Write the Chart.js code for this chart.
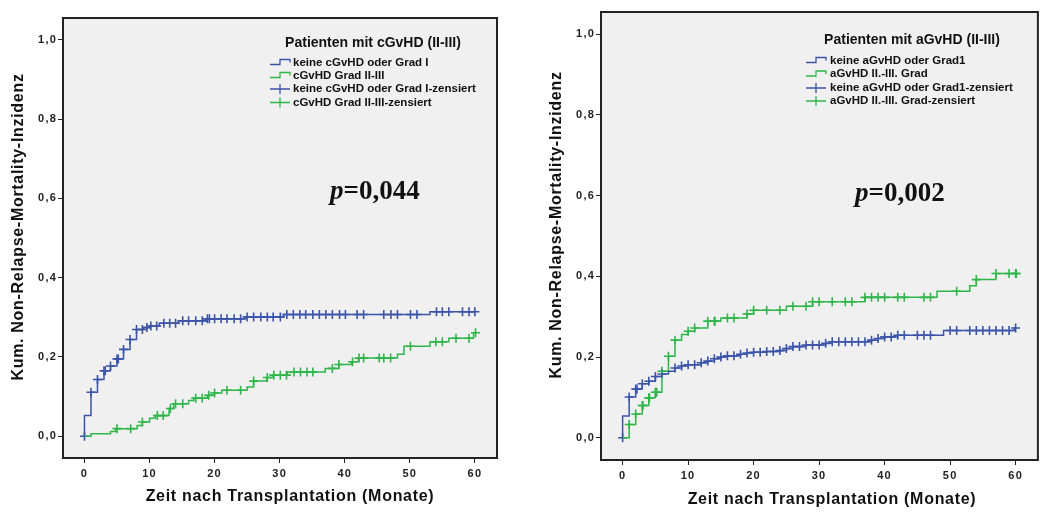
<!DOCTYPE html>
<html>
<head>
<meta charset="utf-8">
<script src="https://cdn.jsdelivr.net/npm/chart.js@4.4.1/dist/chart.umd.min.js"></script>
<style>
  body { margin: 0; background: #fff; width: 1044px; height: 512px; overflow: hidden; }
  .box { position: absolute; top: 0; }
</style>
</head>
<body>
<div class="box" style="left:0;width:520px;height:512px"><canvas id="chartC" width="520" height="512"></canvas></div>
<div class="box" style="left:520px;width:524px;height:512px"><canvas id="chartA" width="524" height="512"></canvas></div>
<script>
// axes
const xTicks = [0, 10, 20, 30, 40, 50, 60];
const yTicks = [0, 0.2, 0.4, 0.6, 0.8, 1.0];
const xTitle = 'Zeit nach Transplantation (Monate)';
const yTitle = 'Kum. Non-Relapse-Mortality-Inzidenz';

// left: cGvHD
const cBlueTimes = [0, 1, 2, 3, 4, 5, 6, 7, 8, 9, 10, 11.5, 14.4, 18.9, 24.8, 30.6, 53.1];
const cBlueNrm = [0.052, 0.111, 0.143, 0.165, 0.177, 0.195, 0.219, 0.244, 0.269, 0.274, 0.278, 0.285, 0.291, 0.296, 0.301, 0.307, 0.314];
const cBlueCensored = [0, 1, 2, 3, 3.2, 4, 5, 5.2, 6, 7, 8, 8.9, 9.6, 10.2, 11.1, 12.2, 13.1, 14, 15.1, 16, 17.1, 18.1, 18.9, 19.2, 20, 21, 21.9, 23, 24, 25, 26, 27.1, 28.1, 29, 30.1, 31.1, 32.1, 33.1, 34, 35.1, 36.1, 37.1, 38.1, 39.2, 40.1, 41.9, 42.9, 46, 47.1, 48.1, 50.1, 51.1, 54.1, 55, 56, 58.1, 59.1, 60];
const cGreenTimes = [1, 4, 4.8, 8.1, 8.9, 10, 10.9, 13, 13.7, 16, 16.8, 18.9, 19.9, 21.1, 25, 26, 28, 29, 31.2, 37, 39.1, 41, 42.1, 48.1, 49.1, 53.1, 56, 59.8];
const cGreenNrm = [0.006, 0.012, 0.019, 0.027, 0.036, 0.045, 0.052, 0.070, 0.082, 0.090, 0.096, 0.103, 0.109, 0.116, 0.124, 0.139, 0.148, 0.154, 0.162, 0.171, 0.181, 0.188, 0.197, 0.207, 0.227, 0.238, 0.247, 0.261];
const cGreenCensored = [5, 7.1, 8.9, 11.2, 12.1, 13.2, 14, 15.1, 17.1, 18.1, 19.1, 20, 21.9, 24, 26, 28.1, 29.1, 30.1, 31.05, 32.2, 33.2, 34.2, 35.1, 38.1, 39.1, 41.2, 42.2, 42.9, 45.3, 46, 47.05, 50.1, 54, 55, 57.1, 59.1, 60.1];

// right: aGvHD
const aBlueTimes = [0, 1, 2, 3, 4, 5, 6, 7, 8, 9, 10, 12, 13, 14, 15, 16, 18, 19, 20, 22, 24, 25, 26, 28, 31, 32, 38, 39, 40, 42, 49, 59.8];
const aBlueNrm = [0.054, 0.101, 0.121, 0.134, 0.140, 0.152, 0.158, 0.165, 0.173, 0.178, 0.181, 0.186, 0.190, 0.196, 0.200, 0.203, 0.207, 0.210, 0.212, 0.214, 0.216, 0.221, 0.226, 0.230, 0.234, 0.238, 0.242, 0.246, 0.250, 0.254, 0.266, 0.272];
const aBlueCensored = [0, 1, 2, 2.2, 3, 4, 5, 6, 8, 9, 10, 11, 12, 13, 14, 15, 16, 17, 18, 19, 20, 21, 22, 23, 24, 25, 26, 27, 28, 29, 30, 31, 32, 33, 34, 35, 36, 37, 38, 39, 40, 41, 42, 43, 45, 46, 47, 50, 51, 53, 54, 55, 56, 57, 58, 59, 60];
const aGreenTimes = [1, 2, 3, 4, 5, 6, 7, 8, 9, 10, 11, 13, 15, 19, 20, 25, 29, 37, 48, 53, 54, 57];
const aGreenNrm = [0.033, 0.059, 0.080, 0.099, 0.113, 0.165, 0.202, 0.242, 0.256, 0.264, 0.272, 0.289, 0.297, 0.307, 0.316, 0.326, 0.337, 0.348, 0.363, 0.377, 0.392, 0.407];
const aGreenCensored = [1, 2, 3, 3.1, 4, 4.1, 5, 5.2, 6, 7, 8, 10, 11, 13, 14, 14.1, 16, 17, 19, 20, 22, 24, 26, 28, 29, 30, 32, 34, 35, 37, 38, 39, 40, 42, 43, 46, 47, 51, 54, 57, 59, 60, 60.1];

const legendC = ['keine cGvHD oder Grad I', 'cGvHD Grad II-III', 'keine cGvHD oder Grad I-zensiert', 'cGvHD Grad II-III-zensiert'];
const legendA = ['keine aGvHD oder Grad1', 'aGvHD II.-III. Grad', 'keine aGvHD oder Grad1-zensiert', 'aGvHD II.-III. Grad-zensiert'];

const BLUE = '#3b53a9';
const GREEN = '#2fb54a';

function stepValue(times, vals, t) {
  if (t <= 0) return 0;
  let v = 0;
  for (let i = 0; i < times.length; i++) {
    if (times[i] <= t) v = vals[i];
  }
  return v;
}

function curve(times, vals, censored) {
  const pts = [{x: 0, y: 0}];
  times.forEach((t, i) => pts.push({x: t, y: vals[i]}));
  const end = Math.max(...censored, times[times.length - 1]);
  pts.push({x: end, y: vals[vals.length - 1]});
  return pts;
}

function marks(times, vals, censored) {
  return censored.map(t => ({x: t, y: stepValue(times, vals, t)}));
}

const frame = {
  id: 'frame',
  beforeDraw(chart) {
    const {ctx, chartArea: a} = chart;
    ctx.fillStyle = '#f0f0f0';
    ctx.fillRect(a.left, a.top, a.right - a.left, a.bottom - a.top);
    // wide spacing for the tick labels, like the original
    ctx.letterSpacing = '1.2px';
  },
  afterDraw(chart) {
    const {ctx, chartArea: a} = chart;
    const t = chart.options.plugins.texts;
    ctx.save();
    ctx.letterSpacing = '0px';
    ctx.strokeStyle = '#222';
    ctx.lineWidth = 2;
    ctx.strokeRect(a.left, a.top, a.right - a.left, a.bottom - a.top);

    // axis titles
    ctx.fillStyle = '#111';
    ctx.font = 'bold 16px "Liberation Sans", Arial, sans-serif';
    ctx.letterSpacing = '0.7px';
    ctx.textAlign = 'center';
    ctx.textBaseline = 'middle';
    ctx.fillText(xTitle, t.xTitle[0], t.xTitle[1]);
    ctx.save();
    ctx.translate(t.yTitle[0], t.yTitle[1]);
    ctx.rotate(-Math.PI / 2);
    ctx.fillText(yTitle, 0, 0);
    ctx.restore();
    ctx.letterSpacing = '0px';

    // legend
    const L = t.legend;
    ctx.font = 'bold 14px "Liberation Sans", Arial, sans-serif';
    ctx.fillText(L.title, L.titleX, L.titleY);
    ctx.font = 'bold 11.5px "Liberation Sans", Arial, sans-serif';
    ctx.textAlign = 'left';
    const cols = [BLUE, GREEN, BLUE, GREEN];
    L.items.forEach((label, i) => {
      const y = L.rows[i];
      const x0 = L.symX;
      ctx.strokeStyle = cols[i];
      ctx.lineWidth = 1.3;
      ctx.beginPath();
      if (i < 2) {
        ctx.moveTo(x0, y + 2); ctx.lineTo(x0 + 10, y + 2); ctx.lineTo(x0 + 10, y - 3);
        ctx.lineTo(x0 + 20, y - 3); ctx.lineTo(x0 + 20, y);
      } else {
        ctx.moveTo(x0, y); ctx.lineTo(x0 + 20, y);
        ctx.moveTo(x0 + 10, y - 5); ctx.lineTo(x0 + 10, y + 5);
      }
      ctx.stroke();
      ctx.fillStyle = '#111';
      ctx.fillText(label, L.textX, y);
    });

    // p value
    ctx.fillStyle = '#111';
    ctx.textBaseline = 'alphabetic';
    ctx.font = 'italic bold 27px "Liberation Serif", "Times New Roman", serif';
    ctx.fillText('p', t.p[0], t.p[1]);
    const w = ctx.measureText('p').width;
    ctx.font = 'bold 27px "Liberation Serif", "Times New Roman", serif';
    ctx.fillText(t.p[2], t.p[0] + w, t.p[1]);
    ctx.restore();
  }
};

function makeChart(id, series, box, texts) {
  const datasets = [];
  series.forEach(s => {
    datasets.push({
      data: curve(s.times, s.vals, s.censored),
      showLine: true, stepped: true, borderColor: s.color, borderWidth: 1.5,
      pointRadius: 0, fill: false
    });
  });
  series.forEach(s => {
    datasets.push({
      data: marks(s.times, s.vals, s.censored),
      showLine: false, pointStyle: 'cross', pointRadius: 4.5,
      pointBorderColor: s.color, pointBorderWidth: 1.6, borderColor: s.color
    });
  });
  const tickFont = {family: '"Liberation Sans", Arial, sans-serif', size: 11, weight: 'bold'};
  return new Chart(document.getElementById(id), {
    type: 'scatter',
    data: {datasets},
    options: {
      responsive: false, animation: false,
      layout: {padding: {left: 0, right: box.right, top: box.top, bottom: 0}},
      plugins: {legend: {display: false}, tooltip: {enabled: false}, texts},
      scales: {
        x: {
          type: 'linear', min: -3.3, max: 63.4,
          afterFit: s => { s.height = box.xh; },
          afterBuildTicks: s => { s.ticks = xTicks.map(v => ({value: v})); },
          grid: {drawOnChartArea: false, drawTicks: true, tickLength: 5, tickColor: '#222', lineWidth: 1},
          border: {display: false},
          ticks: {color: '#222', font: tickFont, padding: 4, maxRotation: 0, callback: v => String(v)}
        },
        y: {
          type: 'linear', min: -0.055, max: 1.055,
          afterFit: s => { s.width = box.yw; },
          afterBuildTicks: s => { s.ticks = yTicks.map(v => ({value: v})); },
          grid: {drawOnChartArea: false, drawTicks: true, tickLength: 5, tickColor: '#222', lineWidth: 1},
          border: {display: false},
          ticks: {color: '#222', font: tickFont, padding: 1, callback: v => v.toFixed(1).replace('.', ',')}
        }
      }
    },
    plugins: [frame]
  });
}

makeChart('chartC', [
  {times: cBlueTimes, vals: cBlueNrm, censored: cBlueCensored, color: BLUE},
  {times: cGreenTimes, vals: cGreenNrm, censored: cGreenCensored, color: GREEN}
], {right: 23, top: 18, xh: 54, yw: 63}, {
  xTitle: [290, 497], yTitle: [19, 227],
  legend: {title: 'Patienten mit cGvHD (II-III)', titleX: 373, titleY: 43, items: legendC,
           symX: 270, textX: 293, rows: [62.5, 75.5, 89, 102.5]},
  p: [330, 199, '=0,044']
});

makeChart('chartA', [
  {times: aBlueTimes, vals: aBlueNrm, censored: aBlueCensored, color: BLUE},
  {times: aGreenTimes, vals: aGreenNrm, censored: aGreenCensored, color: GREEN}
], {right: 2, top: 12, xh: 52, yw: 81}, {
  xTitle: [312, 500], yTitle: [37, 225],
  legend: {title: 'Patienten mit aGvHD (II-III)', titleX: 392, titleY: 40, items: legendA,
           symX: 286, textX: 310, rows: [60.5, 74, 88, 101]},
  p: [335, 201, '=0,002']
});
</script>
</body>
</html>
